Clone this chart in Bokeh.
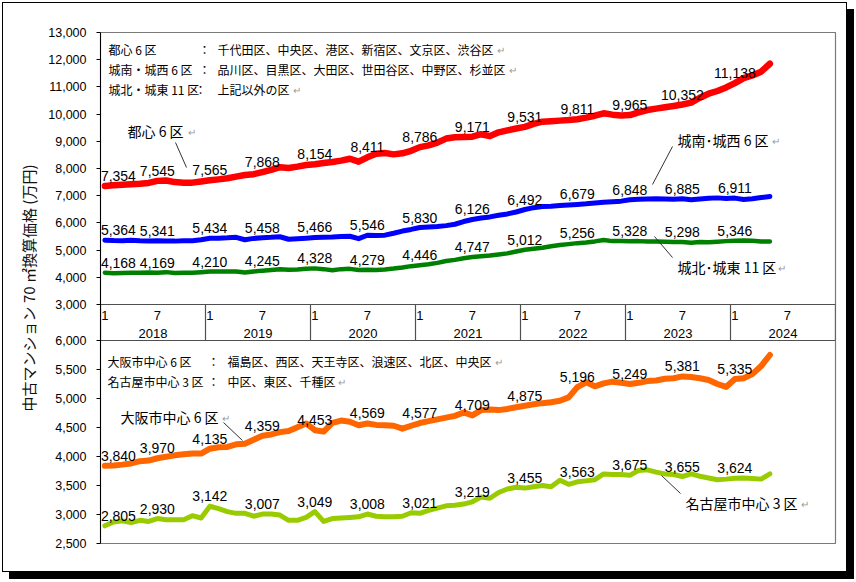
import math
from bokeh.plotting import figure
from bokeh.models import (Range1d, LinearAxis, FixedTicker, ColumnDataSource, Label)
from bokeh.core.properties import value
from bokeh.embed import file_html
from bokeh.resources import INLINE

# ---------------- data ----------------
years = [2018, 2019, 2020, 2021, 2022, 2023, 2024]
month_ticks = ["1", "7"]
month_tick_index = [0, 6]
axis_months = 84
label_step = 6

top_ticks = [3000, 4000, 5000, 6000, 7000, 8000, 9000, 10000, 11000, 12000, 13000]
low_ticks = [2500, 3000, 3500, 4000, 4500, 5000, 5500, 6000]

tokyo_center6 = [
    7354, 7380, 7400, 7420, 7440, 7470, 7545, 7560, 7500, 7480, 7480, 7520,
    7565, 7600, 7640, 7700, 7760, 7790, 7868, 7950, 8050, 8020, 8070, 8130,
    8154, 8200, 8240, 8290, 8360, 8250, 8411, 8540, 8570, 8520, 8560, 8650,
    8786, 8850, 8950, 9100, 9150, 9160, 9171, 9260, 9190, 9330, 9400, 9470,
    9531, 9640, 9720, 9740, 9760, 9780, 9811, 9870, 9940, 10030, 9980, 9950,
    9965, 10060, 10150, 10200, 10250, 10300, 10352, 10420, 10600, 10750, 10850, 10980,
    11138, 11320, 11420, 11560, 11850]

tokyo_sw6 = [
    5364, 5350, 5345, 5360, 5340, 5335, 5341, 5335, 5330, 5345, 5340, 5380,
    5434, 5440, 5450, 5470, 5380, 5430, 5458, 5470, 5490, 5400, 5420, 5440,
    5466, 5470, 5480, 5500, 5510, 5420, 5546, 5540, 5550, 5620, 5700, 5760,
    5830, 5850, 5870, 5900, 5950, 6050, 6126, 6180, 6220, 6280, 6330, 6400,
    6492, 6560, 6600, 6610, 6640, 6660, 6679, 6700, 6730, 6760, 6780, 6800,
    6848, 6870, 6880, 6890, 6880, 6870, 6885, 6850, 6880, 6910, 6920, 6900,
    6911, 6860, 6890, 6930, 6970]

tokyo_ne11 = [
    4168, 4150, 4160, 4170, 4170, 4175, 4169, 4190, 4160, 4165, 4170, 4190,
    4210, 4210, 4215, 4215, 4180, 4210, 4245, 4270, 4300, 4280, 4290, 4310,
    4328, 4300, 4260, 4300, 4310, 4270, 4279, 4270, 4290, 4320, 4360, 4410,
    4446, 4480, 4530, 4600, 4640, 4700, 4747, 4770, 4800, 4840, 4880, 4950,
    5012, 5050, 5090, 5140, 5190, 5220, 5256, 5280, 5320, 5370, 5330, 5330,
    5328, 5330, 5320, 5320, 5310, 5300, 5298, 5270, 5300, 5290, 5310, 5330,
    5346, 5350, 5340, 5320, 5320]

osaka6 = [
    3840, 3845, 3860, 3880, 3920, 3930, 3970, 3995, 4020, 4040, 4050, 4050,
    4135, 4160, 4165, 4210, 4220, 4290, 4359, 4380, 4420, 4440, 4505, 4570,
    4453, 4430, 4580, 4620, 4600, 4540, 4569, 4545, 4540, 4530, 4480, 4530,
    4577, 4610, 4640, 4670, 4700, 4760, 4709, 4800, 4810, 4800, 4820, 4850,
    4875, 4900, 4920, 4935, 4960, 5020, 5196, 5280, 5210, 5260, 5290, 5270,
    5249, 5270, 5300, 5310, 5340, 5350, 5381, 5370, 5350, 5320, 5250, 5200,
    5335, 5350, 5420, 5560, 5750]

nagoya3 = [
    2805, 2870, 2890, 2860, 2900, 2880, 2930, 2910, 2910, 2910, 2980, 2940,
    3142, 3100, 3050, 3020, 3020, 2970, 3007, 3010, 2990, 2900, 2900, 2950,
    3049, 2880, 2930, 2940, 2950, 2960, 3008, 2970, 2960, 2960, 2970, 3030,
    3021, 3070, 3110, 3150, 3160, 3180, 3219, 3300, 3280, 3380, 3440, 3470,
    3455, 3480, 3500, 3480, 3590, 3520, 3563, 3580, 3600, 3700, 3690, 3690,
    3675, 3760, 3770, 3730, 3700, 3690, 3655, 3700, 3660, 3630, 3600, 3610,
    3624, 3630, 3620, 3610, 3700]

# ---------------- layout helpers (reference pixel frame) ----------------
FR_L, FR_R, FR_T, FR_B = 100, 835, 32, 543
TOP_PX, BAND_PX, LOW_PX = 272, 36, 203
TOP_MIN, TOP_MAX = 3000, 13000
LOW_MIN, LOW_MAX = 2500, 6000
top_per_px = (TOP_MAX - TOP_MIN) / TOP_PX
low_per_px = (LOW_MAX - LOW_MIN) / LOW_PX
px_per_month = (FR_R - FR_L) / axis_months


def X2d(X):
    return (X - FR_L) / px_per_month


def Y2d(Y):
    return TOP_MAX - (Y - FR_T) * top_per_px


top_range = Range1d(TOP_MIN - (BAND_PX + LOW_PX) * top_per_px, TOP_MAX)
low_range = Range1d(LOW_MIN, LOW_MAX + (TOP_PX + BAND_PX) * low_per_px)


def low_to_top(v):
    # position of a lower-panel value expressed in the main (upper) range
    return top_range.start + (v - LOW_MIN) / low_per_px * top_per_px


p = figure(width=845, height=570, x_range=Range1d(0, axis_months), y_range=top_range,
           output_backend="svg", toolbar_location=None,
           x_axis_location=None, y_axis_location=None,
           min_border_left=97, min_border_right=13, min_border_top=29, min_border_bottom=30)
p.extra_y_ranges = {"low": low_range}
p.grid.visible = False
p.outline_line_color = "#7a7a7a"
p.outline_line_width = 1.2
p.background_fill_color = "white"
p.border_fill_color = "white"
p.styles = {"border": "1px solid #000", "box-shadow": "7px 7px 0px 0px #000",
            "margin-left": "2px", "margin-top": "2px"}

# one left axis carrying the tick labels of both panels
tick_pos = [float(t) for t in top_ticks] + [low_to_top(v) for v in low_ticks]
overrides = {float(t): "{:,}".format(t) for t in top_ticks}
overrides.update({low_to_top(v): "{:,}".format(v) for v in low_ticks})
ax = LinearAxis(ticker=FixedTicker(ticks=tick_pos, minor_ticks=[]),
                major_label_overrides=overrides)
ax.major_label_text_font = "Liberation Sans"
ax.major_label_text_font_size = "12.5px"
ax.major_label_text_color = "black"
ax.major_tick_in = 0
ax.major_tick_out = 4
ax.major_tick_line_color = "black"
ax.minor_tick_line_color = None
ax.axis_line_color = "black"
ax.major_label_standoff = 10
ax.axis_label = "中古マンション 70 ㎡換算価格 (万円)"
ax.axis_label_text_font = "Noto Sans CJK JP"
ax.axis_label_text_font_size = "15px"
ax.axis_label_text_font_style = "normal"
ax.axis_label_text_color = "#111111"
ax.axis_label_standoff = 6
p.add_layout(ax, "left")

# category band between panels
band_top = TOP_MIN
band_bot = TOP_MIN - BAND_PX * top_per_px
sep_x = [12 * k for k in range(len(years) + 1)]
p.segment(x0=sep_x, y0=[band_top] * len(sep_x), x1=sep_x, y1=[band_bot] * len(sep_x),
          line_color="#505050", line_width=1.2)
p.segment(x0=[0, 0], y0=[band_top, band_bot], x1=[axis_months, axis_months], y1=[band_top, band_bot],
          line_color="#505050", line_width=1.2)

mx, mt = [], []
for k, yr in enumerate(years):
    for lab, mi in zip(month_ticks, month_tick_index):
        mx.append(12 * k + mi + 0.5)
        mt.append(lab)
p.text(x=mx, y=[Y2d(315)] * len(mx), text=mt, text_font=value("Liberation Sans"),
       text_font_size="13px", text_align="center", text_baseline="middle", text_color="black")
p.text(x=[12 * k + 6 for k in range(len(years))], y=[Y2d(333)] * len(years),
       text=[str(y) for y in years], text_font=value("Liberation Sans"),
       text_font_size="13px", text_align="center", text_baseline="middle", text_color="black")

# series
series = [
    (tokyo_center6, "default", "#FF0000", 6.5),
    (tokyo_sw6, "default", "#0000FF", 5),
    (tokyo_ne11, "default", "#008000", 4.5),
    (osaka6, "low", "#FF6600", 6),
    (nagoya3, "low", "#99CC00", 5),
]
for vals, rng, col, lw in series:
    xs = [i + 0.5 for i in range(len(vals))]
    p.line(x=xs, y=vals, y_range_name=rng, line_color=col, line_width=lw,
           line_join="round", line_cap="round")
for vals, rng, col, lw in series:
    idx = list(range(0, len(vals), label_step))
    src = ColumnDataSource(dict(
        x=[i + 0.5 for i in idx], y=[vals[i] for i in idx],
        t=["{:,}".format(vals[i]) for i in idx],
        al=["left" if i == 0 else "center" for i in idx],
        xo=[-4 if i == 0 else 0 for i in idx]))
    p.text(x="x", y="y", text="t", source=src, y_range_name=rng,
           text_align="al", x_offset="xo", y_offset=-10, text_baseline="alphabetic",
           text_font=value("Liberation Sans"), text_font_size="14px", text_color="black")

JP = "Noto Sans CJK JP"


def put(text, X, Y, size, color="black", align="left", angle=0.0):
    p.add_layout(Label(x=X2d(X), y=Y2d(Y), text=text, text_font=JP, text_font_size=size,
                       text_color=color, text_align=align, text_baseline="middle", angle=angle))


# definition blocks
put("都心 6 区", 108, 49, "12px")
put("：", 198, 49, "12px")
put("千代田区、中央区、港区、新宿区、文京区、渋谷区", 217, 49, "12px")
put("城南・城西 6 区", 108, 69, "12px")
put("：", 198, 69, "12px")
put("品川区、目黒区、大田区、世田谷区、中野区、杉並区", 217, 69, "12px")
put("城北・城東 11 区", 108, 89, "12px")
put("：", 194, 89, "12px")
put("上記以外の区", 217, 89, "12px")
put("大阪市中心 6 区", 107, 361, "12px")
put("：", 207, 361, "12px")
put("福島区、西区、天王寺区、浪速区、北区、中央区", 227, 361, "12px")
put("名古屋市中心 3 区", 107, 381, "12px")
put("：", 207, 381, "12px")
put("中区、東区、千種区", 227, 381, "12px")

# series names
put("都心 6 区", 127, 130, "14px")
put("城南･城西 6 区", 677, 139, "14px")
put("城北･城東 11 区", 677, 266, "14px")
put("大阪市中心 6 区", 120, 416, "14px")
put("名古屋市中心 3 区", 685, 502, "14px")

# paragraph marks
for X, Y in [(496, 49), (508, 69), (292, 89), (187, 131), (771, 140), (777, 267),
             (494, 361), (337, 381), (221, 417), (800, 503)]:
    put("↵", X, Y, "10px", color="#9a9a9a")

# leader lines
leaders = [((175, 142), (186, 167)), ((672, 146), (652, 184)), ((654, 236), (672, 257)),
           ((223, 422), (242, 440)), ((661, 475), (680, 493))]
p.segment(x0=[X2d(a[0]) for a, b in leaders], y0=[Y2d(a[1]) for a, b in leaders],
          x1=[X2d(b[0]) for a, b in leaders], y1=[Y2d(b[1]) for a, b in leaders],
          line_color="#333333", line_width=1)

open("out.html", "w").write(file_html(p, INLINE))
